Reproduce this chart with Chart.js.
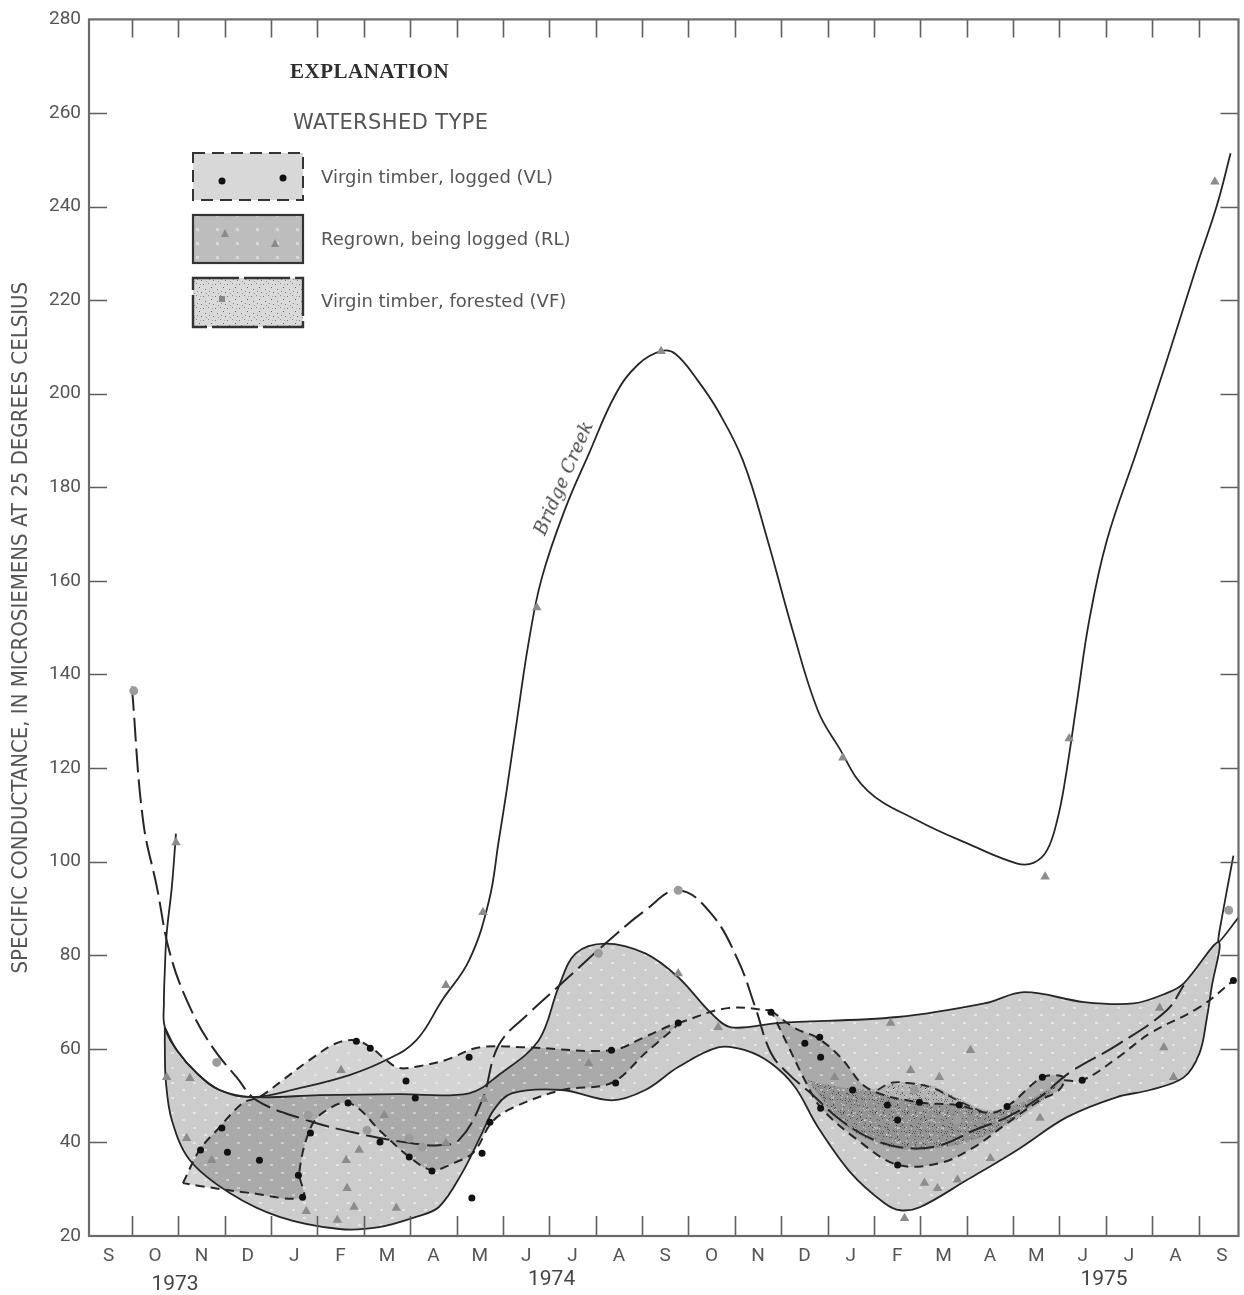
<!DOCTYPE html>
<html>
<head>
<meta charset="utf-8">
<script src="https://cdn.jsdelivr.net/npm/chart.js@4.4.1/dist/chart.umd.min.js"></script>
<style>
  html, body { margin: 0; padding: 0; background: #fff; }
  #wrap { position: relative; width: 1244px; height: 1295px; overflow: hidden; }
  #chart { position: absolute; left: 0; top: 0; }
  .txt { position: absolute; white-space: nowrap; color: #4a4a4a; }
  #expl { left: 290px; top: 59px; font: bold 21px 'Liberation Serif', serif; color: #2e2e2e; letter-spacing: 0.5px; }
  #wtype { left: 293px; top: 110px; font: 21px 'DejaVu Sans', sans-serif; color: #555; letter-spacing: 0.4px; }
  .lgd { left: 321px; font: 18px/22px 'DejaVu Sans', sans-serif; color: #555; }
  #bridge { left: 563px; top: 478px; font: italic 18px 'DejaVu Serif', serif; color: #444;
            transform: translate(-50%, -50%) rotate(-66.5deg); }
  .year { font: 21px/24px 'Roboto', 'DejaVu Sans', sans-serif; color: #444;
          transform: translateX(-50%); }
  #swatches { position: absolute; left: 190px; top: 150px; }
</style>
</head>
<body>
<div id="wrap">
  <canvas id="chart" width="1244" height="1295"></canvas>

  <!-- Explanation block -->
  <div class="txt" id="expl">EXPLANATION</div>
  <div class="txt" id="wtype">WATERSHED TYPE</div>
  <svg id="swatches" width="120" height="184">
    <defs>
      <pattern id="stip" width="12" height="12" patternUnits="userSpaceOnUse">
        <rect width="12" height="12" fill="#d9d9d9"/>
        <rect x="1" y="2" width="1" height="1" fill="#777"/>
        <rect x="6" y="1" width="1" height="1" fill="#888"/>
        <rect x="9" y="5" width="1" height="1" fill="#666"/>
        <rect x="3" y="7" width="1" height="1" fill="#777"/>
        <rect x="7" y="9" width="1" height="1" fill="#888"/>
        <rect x="11" y="10" width="1" height="1" fill="#777"/>
        <rect x="4" y="11" width="1" height="1" fill="#999"/>
        <rect x="10" y="2" width="1" height="1" fill="#aaa"/>
      </pattern>
      <pattern id="wdots" width="20" height="14" patternUnits="userSpaceOnUse">
        <rect width="20" height="14" fill="#bdbdbd"/>
        <rect x="6" y="8" width="3" height="3" fill="#d8d8d8"/>
      </pattern>
    </defs>
    <rect x="3" y="3" width="110" height="47" fill="#d8d8d8" stroke="#333" stroke-width="2" stroke-dasharray="12 7"/>
    <circle cx="32" cy="31" r="3.5" fill="#111"/>
    <circle cx="93" cy="28" r="3.5" fill="#111"/>
    <rect x="3" y="65" width="110" height="48" fill="url(#wdots)" stroke="#333" stroke-width="2.2"/>
    <polygon points="35,79 39,87 31,87" fill="#8a8a8a"/>
    <polygon points="85,89 89,97 81,97" fill="#8a8a8a"/>
    <rect x="3" y="128" width="110" height="49" fill="url(#stip)" stroke="#333" stroke-width="2.4" stroke-dasharray="46 5"/>
    <rect x="29" y="146" width="6" height="6" fill="#888"/>
  </svg>
  <div class="txt lgd" style="top:166px">Virgin timber, logged (VL)</div>
  <div class="txt lgd" style="top:228px">Regrown, being logged (RL)</div>
  <div class="txt lgd" style="top:290px">Virgin timber, forested (VF)</div>

  <div class="txt" id="bridge">Bridge Creek</div>
</div>

<script>
// ---- axis labels ----
const monthLabels = ['S','O','N','D','J','F','M','A','M','J','J','A','S','O','N','D','J','F','M','A','M','J','J','A','S'];
const monthCenters = monthLabels.map((_, i) => i + 0.5);   // label sits mid-month
const monthEdges = [1,2,3,4,5,6,7,8,9,10,11,12,13,14,15,16,17,18,19,20,21,22,23,24];
const yTickValues = [40,60,80,100,120,140,160,180,200,220,240,260];
const yearLabels = ['1973','1974','1975'];

// ---- Bridge Creek (months since 1 Sep 1973, microsiemens) ----
const bridgeMonth = [1.95,1.86,1.75,1.71,1.69,1.71,1.97,2.40,2.89,3.60,4.61,5.69,6.48,7.13,7.69,8.27,8.70,8.91,9.08,9.30,9.56,9.84,10.35,10.85,11.43,11.92,12.41,12.72,13.21,13.64,14.18,14.71,15.25,15.79,16.22,16.86,17.94,19.01,20.09,20.45,20.73,20.95,21.12,21.38,21.64,22.02,22.67,23.31,23.96,24.39,24.69];
const bridgeValue = [106.0,94.5,84.7,76.8,69.7,64.6,59.7,54.8,51.2,49.7,51.6,54.4,57.6,61.8,70.4,78.9,91.7,104.5,115.2,130.1,147.2,160.7,175.6,187.1,199.9,206.3,209.1,208.5,202.7,196.3,185.6,168.6,149.3,132.3,124.8,115.2,108.8,103.9,99.6,99.8,102.4,108.8,117.3,134.4,151.5,168.6,187.8,207.0,227.3,240.1,251.4];

// ---- RL envelope (upper edge left->right, then lower edge back) ----
const rlMonth = [1.71,1.97,2.40,2.89,3.60,5.04,6.76,8.27,8.91,9.77,10.20,10.57,11.21,12.07,12.78,13.49,13.92,14.93,17.51,19.38,20.24,21.53,22.60,23.31,23.68,24.43,24.28,24.17,24.02,23.68,22.95,22.24,21.16,20.09,19.01,18.00,17.57,17.23,16.50,15.79,15.30,14.78,14.22,13.64,12.78,12.07,11.34,10.27,9.19,8.80,8.55,8.12,7.62,7.13,6.33,5.47,4.18,3.11,2.25,1.86,1.73,1.71,1.71];
const rlValue = [64.6,59.7,54.8,51.2,49.7,50.1,50.3,50.5,54.4,61.8,73.2,80.4,82.5,80.4,75.3,67.6,64.6,65.5,66.8,69.7,72.1,70.0,69.7,71.9,74.0,82.8,73.1,66.1,59.1,53.9,51.2,49.7,45.4,38.4,32.0,26.2,25.5,27.0,33.5,43.3,51.8,56.9,59.7,60.3,56.1,51.2,49.0,51.2,50.5,46.9,42.0,33.5,26.2,24.1,21.9,21.5,24.1,29.2,36.2,44.8,53.3,60.8,64.6];
const rlTailMonth = [24.86,24.43,24.49,24.75];
const rlTailValue = [88.1,82.8,87.4,101.3];

// ---- VF long-dash line ----
const vfMonth = [1.00,1.24,1.54,1.82,2.25,2.74,3.26,3.69,4.76,5.84,6.98,7.62,8.05,8.55,8.91,9.56,10.27,11.21,12.07,12.78,13.49,14.07,14.44,14.78,15.14,15.64,16.28,17.01,17.72,18.43,19.16,19.87,20.58,21.23,22.24,23.31,23.68];
const vfValue = [137.4,108.8,94.5,80.4,68.9,60.3,53.9,49.0,44.8,42.0,39.9,39.4,40.5,49.0,60.8,67.6,74.0,82.5,89.6,93.9,88.9,78.9,68.9,59.1,54.8,50.5,44.8,40.5,38.8,39.4,42.6,45.4,49.7,55.0,60.8,68.2,73.6];

// ---- VL envelopes (short dash) ----
const vlaMonth = [2.10,2.46,2.83,3.39,3.75,4.25,4.83,5.41,5.84,6.18,6.48,6.76,7.19,7.77,8.48,9.56,11.34,12.14,12.78,12.07,11.34,10.27,9.19,8.76,8.37,7.94,7.47,6.98,6.40,5.69,5.11,4.83,4.61,4.68,3.54,2.46,2.10];
const vlaValue = [31.3,38.4,42.6,48.4,49.7,53.3,57.6,61.2,61.8,60.1,57.6,55.9,56.3,57.6,60.3,60.3,59.7,62.9,65.5,59.1,52.7,51.2,47.3,44.3,37.9,35.6,34.1,36.9,42.0,48.4,46.3,42.6,33.5,28.3,29.2,30.7,31.3];
const vlLinkMonth = [12.78,13.85,14.78];
const vlLinkValue = [65.5,68.7,68.2];
const vlbMonth = [14.78,15.30,15.79,16.28,16.86,17.94,18.80,19.51,19.94,20.63,21.10,20.99,20.58,19.87,19.16,18.43,17.51,16.65,15.85,15.51,15.14,14.78];
const vlbValue = [68.2,64.4,62.3,58.2,51.6,48.6,48.0,46.3,48.2,53.9,53.9,51.2,49.0,44.1,39.0,35.6,35.2,40.5,47.5,53.3,60.8,68.2];
const vlTailMonth = [21.10,21.49,22.24,22.95,24.02,24.75];
const vlTailValue = [53.3,53.3,58.0,63.3,68.9,74.6];

// ---- VF stippled patch and small hump ----
const vfsMonth = [15.57,16.43,17.08,17.51,18.22,18.80,19.51,20.30,20.95,20.52,19.87,19.16,18.43,17.72,17.01,16.28,15.57];
const vfsValue = [53.3,51.6,51.6,52.9,52.2,49.5,46.9,49.0,52.2,48.0,43.7,40.5,38.8,38.4,40.1,44.3,53.3];
const humpMonth = [17.08,17.36,17.72,18.22,18.80,19.38];
const humpValue = [51.2,52.7,52.7,51.8,49.0,46.3];

// ---- sample points ----
const vlDotMonth = [2.48,2.94,3.06,3.75,4.59,4.68,4.85,5.66,5.84,6.14,6.91,7.11,6.35,6.98,7.47,8.27,8.72,8.55,8.33,11.34,11.43,12.78,14.78,15.51,15.83,15.85,16.54,15.85,17.29,17.51,17.98,18.84,17.51,19.87,20.63,21.49,24.75];
const vlDotValue = [38.4,43.1,37.9,36.2,33.0,28.3,42.0,48.4,61.6,60.1,53.1,49.5,40.1,36.9,33.9,58.2,44.3,37.7,28.1,59.7,52.7,65.5,67.8,61.2,62.5,58.2,51.2,47.3,48.0,44.8,48.6,48.0,35.2,47.7,53.9,53.3,74.6];
const rlTriMonth = [1.95,1.75,2.25,2.18,2.72,5.51,6.44,7.77,5.90,5.62,5.64,5.79,6.70,5.43,4.76,8.59,8.57,7.77,9.73,10.85,12.78,13.64,16.33,17.36,19.08,17.79,18.41,16.15,20.58,18.09,18.37,18.80,19.51,17.66,20.69,21.21,23.16,23.25,23.46,24.35,12.41];
const rlTriValue = [104.1,53.9,53.7,40.9,36.2,55.4,45.8,39.9,38.4,36.2,30.2,26.2,26.0,23.4,25.3,49.2,89.2,73.6,154.3,56.9,76.1,64.6,122.2,65.5,59.7,55.4,53.9,53.9,45.2,31.3,30.2,32.0,36.6,23.8,96.8,126.3,68.7,60.3,53.9,245.3,209.1];
const vfCircMonth = [1.04,2.83,4.80,6.07,6.98,7.26,11.06,12.78,24.65,17.87,18.80];
const vfCircValue = [136.5,57.1,45.8,42.6,40.9,39.0,80.4,93.9,89.6,51.2,44.8];

const COND = "'Liberation Sans Narrow', 'DejaVu Sans Condensed', 'DejaVu Sans', sans-serif";
const NUM = "'Roboto', 'Liberation Sans', sans-serif";
const INK = '#262626';

function pts(ms, vs) { return ms.map((m, i) => ({ x: m, y: vs[i] })); }

// light gray with faint lighter specks (RL / VL fills)
function speckPattern(alpha, lightAlpha) {
  const c = document.createElement('canvas');
  c.width = 22; c.height = 15;
  const g = c.getContext('2d');
  g.fillStyle = `rgba(0,0,0,${alpha})`;
  g.fillRect(0, 0, 22, 15);
  g.clearRect(6, 9, 3, 2);
  g.clearRect(17, 2, 3, 2);
  g.fillStyle = `rgba(0,0,0,${lightAlpha})`;
  g.fillRect(6, 9, 3, 2);
  g.fillRect(17, 2, 3, 2);
  return g.createPattern(c, 'repeat');
}

// fine stipple for VF
function stipplePattern() {
  const c = document.createElement('canvas');
  c.width = 32; c.height = 32;
  const g = c.getContext('2d');
  g.fillStyle = 'rgba(0,0,0,0.13)';
  g.fillRect(0, 0, 32, 32);
  for (let i = 0; i < 110; i++) {
    const x = (i * 37 + (i * i) % 11) % 32;
    const y = (i * 23 + (i * 7) % 13) % 32;
    g.fillStyle = i % 3 === 0 ? 'rgba(255,255,255,0.5)' : 'rgba(0,0,0,0.45)';
    g.fillRect(x, y, 1, 1);
  }
  return g.createPattern(c, 'repeat');
}

const frameTicks = {
  id: 'frameTicks',
  afterDatasetsDraw(chart) {
    const { ctx, chartArea: a, scales: { x, y } } = chart;
    ctx.save();
    ctx.strokeStyle = '#5e5e5e';
    ctx.lineWidth = 1.6;
    ctx.beginPath();
    monthEdges.forEach(m => {
      const px = Math.round(x.getPixelForValue(m)) + 0.5;
      ctx.moveTo(px, a.bottom); ctx.lineTo(px, a.bottom - 20);
      ctx.moveTo(px, a.top);    ctx.lineTo(px, a.top + 18);
    });
    yTickValues.forEach(v => {
      const py = Math.round(y.getPixelForValue(v)) + 0.5;
      ctx.moveTo(a.left, py);  ctx.lineTo(a.left + 18, py);
      ctx.moveTo(a.right, py); ctx.lineTo(a.right - 18, py);
    });
    ctx.stroke();
    ctx.strokeStyle = '#6a6a6a';
    ctx.lineWidth = 2.2;
    ctx.strokeRect(a.left, a.top, a.right - a.left, a.bottom - a.top);
    ctx.restore();
  }
};

const lineBase = { type: 'line', pointRadius: 0, fill: false, tension: 0.4, borderColor: INK };

const chart = new Chart(document.getElementById('chart'), {
  type: 'line',
  data: {
    datasets: [
      // sample marks on top
      { ...lineBase, data: pts(vlDotMonth, vlDotValue), showLine: false, pointRadius: 3.5,
        pointBackgroundColor: '#111', pointBorderWidth: 0, order: 0 },
      { ...lineBase, data: pts(rlTriMonth, rlTriValue), showLine: false, pointStyle: 'triangle', pointRadius: 5.5,
        pointBackgroundColor: '#8c8c8c', pointBorderWidth: 0, order: 1 },
      { ...lineBase, data: pts(vfCircMonth, vfCircValue), showLine: false, pointRadius: 4.5,
        pointBackgroundColor: '#9c9c9c', pointBorderWidth: 0, order: 1 },
      // lines
      { ...lineBase, data: pts(bridgeMonth, bridgeValue), borderWidth: 1.8, order: 3 },
      { ...lineBase, data: pts(vfMonth, vfValue), borderWidth: 2, borderDash: [24, 7], order: 4 },
      { ...lineBase, data: pts(rlTailMonth, rlTailValue), borderWidth: 1.8, tension: 0.2, order: 4 },
      { ...lineBase, data: pts(vlLinkMonth, vlLinkValue), borderWidth: 2, borderDash: [9, 6], order: 4 },
      { ...lineBase, data: pts(vlTailMonth, vlTailValue), borderWidth: 2, borderDash: [9, 6], order: 4 },
      { ...lineBase, data: pts(humpMonth, humpValue), borderWidth: 1.8, borderDash: [9, 6], order: 4 },
      // filled envelopes
      { ...lineBase, data: pts(vfsMonth, vfsValue), borderWidth: 0, fill: 'shape',
        backgroundColor: stipplePattern(), tension: 0.35, order: 8 },
      { ...lineBase, data: pts(vlaMonth, vlaValue), borderWidth: 2, borderDash: [9, 6], fill: 'shape',
        backgroundColor: speckPattern(0.17, 0.1), tension: 0.35, order: 9 },
      { ...lineBase, data: pts(vlbMonth, vlbValue), borderWidth: 2, borderDash: [9, 6], fill: 'shape',
        backgroundColor: speckPattern(0.17, 0.1), tension: 0.35, order: 9 },
      { ...lineBase, data: pts(rlMonth, rlValue), borderWidth: 1.8, fill: 'shape',
        backgroundColor: speckPattern(0.2, 0.1), tension: 0.35, order: 10 },
    ]
  },
  options: {
    responsive: false,
    devicePixelRatio: 1,
    animation: false,
    layout: { padding: { top: 18, right: 2, left: 0, bottom: 0 } },
    plugins: {
      legend: { display: false },
      tooltip: { enabled: false },
      filler: { drawTime: 'beforeDatasetsDraw' },
    },
    scales: {
      x: {
        type: 'linear', min: 0.075, max: 24.86,
        grid: { display: false, drawTicks: false },
        border: { display: false },
        afterBuildTicks: s => { s.ticks = monthCenters.map(v => ({ value: v })); },
        afterFit: s => { s.height = 59; },
        ticks: {
          autoSkip: false, maxRotation: 0, padding: 9, color: '#555',
          font: { family: NUM, size: 19 },
          callback: (v, i) => monthLabels[i] ?? '',
        },
      },
      y: {
        type: 'linear', min: 20, max: 280,
        grid: { display: false, drawTicks: false },
        border: { display: false },
        afterFit: s => { s.width = 89; },
        ticks: { stepSize: 20, padding: 8, color: '#555', font: { family: NUM, size: 19 } },
        title: {
          display: true,
          text: 'SPECIFIC CONDUCTANCE, IN MICROSIEMENS AT 25 DEGREES CELSIUS',
          color: '#555', font: { family: COND, size: 22 },
          padding: { top: 8, bottom: 0 },
        },
      },
    },
  },
  plugins: [frameTicks],
});

// year labels under the month letters
const yearAt = [1.93, 10.05, 21.96];
const yearTop = [1271, 1266, 1266];
yearLabels.forEach((t, i) => {
  const d = document.createElement('div');
  d.className = 'txt year';
  d.textContent = t;
  d.style.left = chart.scales.x.getPixelForValue(yearAt[i]) + 'px';
  d.style.top = yearTop[i] + 'px';
  document.getElementById('wrap').appendChild(d);
});
</script>
</body>
</html>
